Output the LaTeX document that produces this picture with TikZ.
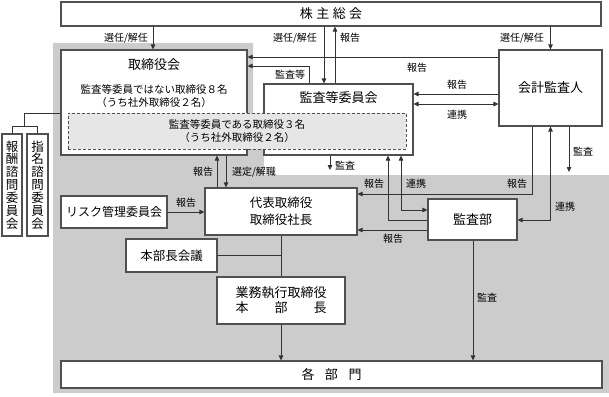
\documentclass[tikz,border=0pt]{standalone}
\usepackage{fontspec}
\setmainfont{Noto Sans CJK JP}
\usetikzlibrary{arrows.meta}
\definecolor{bggray}{HTML}{CCCCCC}
\definecolor{dashfill}{HTML}{E6E6E6}
\definecolor{linec}{HTML}{333333}
\definecolor{boxc}{HTML}{505050}
\begin{document}
\begin{tikzpicture}[x=1pt,y=-1pt,
  box/.style={draw=boxc, line width=1.1pt, fill=white, inner sep=0pt, anchor=center, align=center},
  dbox/.style={draw=boxc, line width=0.8pt, dash pattern=on 3pt off 2pt, fill=dashfill, inner sep=0pt, anchor=center, align=center, font=\fontsize{10.5}{12.5}\selectfont},
  conn/.style={draw=linec, line width=0.8pt},
  arr/.style={conn, -{Triangle[length=5pt,width=4.5pt]}},
  darr/.style={conn, {Triangle[length=5pt,width=4.5pt]}-{Triangle[length=5pt,width=4.5pt]}},
  lbl/.style={inner sep=0pt, anchor=center, font=\fontsize{10}{12}\selectfont},
  ttl/.style={inner sep=0pt, anchor=center, align=center, font=\fontsize{13}{15}\selectfont},
  txt/.style={inner sep=0pt, anchor=center, align=center, font=\fontsize{10.5}{13}\selectfont},
  vbox/.style={box, font=\fontsize{12.5}{12.9}\selectfont}
]
\useasboundingbox (0,0) rectangle (609,396);
\fill[bggray] (53,43) -- (253,43) -- (253,130) -- (264,130) -- (264,175) -- (609,175) -- (609,393) -- (53,393) -- cycle;

% boxes
\node[box, minimum width=540pt, minimum height=24pt, font=\fontsize{13}{15}\selectfont] (soukai) at (331,14) {株\hspace{3.5pt}主\hspace{3.5pt}総\hspace{3.5pt}会};
\node[box, minimum width=186pt, minimum height=105pt] (torikai) at (154,102.5) {};
\node[ttl] (torikaiT) at (154,65) {取締役会};
\node[txt] (torikaiA) at (154,96.5) {監査等委員ではない取締役８名\\（うち社外取締役２名）};
\node[box, minimum width=149pt, minimum height=71pt] (kansakai) at (338.5,119.5) {};
\node[ttl] (kansakaiT) at (338.5,98) {監査等委員会};
\node[dbox, minimum width=338pt, minimum height=36pt] (iin) at (237,131) {監査等委員である取締役３名\\（うち社外取締役２名）};
\node[box, minimum width=103pt, minimum height=76pt, font=\fontsize{13}{15}\selectfont] (kaikei) at (550.5,88) {会計監査人};
\node[box, minimum width=152pt, minimum height=47pt, font=\fontsize{12.5}{16.5}\selectfont] (daihyo) at (281,211.5) {代表取締役\\取締役社長};
\node[box, minimum width=106pt, minimum height=32pt, font=\fontsize{12}{14}\selectfont] (risk) at (114,212) {リスク管理委員会};
\node[box, minimum width=91pt, minimum height=33pt, font=\fontsize{12.5}{14}\selectfont] (honbu) at (171.5,255.5) {本部長会議};
\node[box, minimum width=128pt, minimum height=47pt, font=\fontsize{13}{15}\selectfont] (gyomu) at (281,300.5) {業務執行取締役\\\makebox[7em]{本\hfill 部\hfill 長}};
\node[box, minimum width=89pt, minimum height=41pt, font=\fontsize{13}{15}\selectfont] (kansabu) at (472.5,219.5) {監査部};
\node[box, minimum width=541pt, minimum height=27pt, font=\fontsize{13}{15}\selectfont] (kakubu) at (331.5,374.5) {各\hspace{10.5pt}部\hspace{10.5pt}門};
\node[vbox, minimum width=20pt, minimum height=102pt] (houshu) at (12,185) {報\\酬\\諮\\問\\委\\員\\会};
\node[vbox, minimum width=21pt, minimum height=102pt] (shimei) at (37.5,185) {指\\名\\諮\\問\\委\\員\\会};

\coordinate (kaikeiEnd) at (569,172);
\coordinate (kansakaiEnd) at (330,170);

% connectors
\draw[arr] (153,0 |- soukai.south) -- (153,0 |- torikai.north);
\draw[arr] (324,0 |- soukai.south) -- (324,0 |- kansakai.north);
\draw[arr] (335,0 |- kansakai.north) -- (335,0 |- soukai.south);
\draw[arr] (kaikei.north |- soukai.south) -- (kaikei.north);
\draw[arr] (kaikei.west |- 0,57) -- (torikai.east |- 0,57);
\draw[arr] (309,0 |- kansakai.north) -- (309,66) -- (torikai.east |- 0,66);
\draw[arr] (kaikei.west |- 0,94) -- (kansakai.east |- 0,94);
\draw[darr] (kansakai.east |- 0,104) -- (kaikei.west |- 0,104);
\draw[arr] (kaikeiEnd |- kaikei.south) -- (kaikeiEnd);
\draw[arr] (kansakaiEnd |- kansakai.south) -- (kansakaiEnd);
\draw[arr] (kansabu.west |- 0,220) -- (388,220) -- (388,0 |- kansakai.south);
\draw[darr] (kansabu.west |- 0,210) -- (401,210) -- (401,0 |- kansakai.south);
\draw[arr] (532,0 |- kaikei.south) -- (532,194) -- (daihyo.east |- 0,194);
\draw[darr] (kaikei.south) -- (kaikei.south |- 0,220) -- (kansabu.east |- 0,220);
\draw[arr] (kansabu.west |- 0,230) -- (daihyo.east |- 0,230);
\draw[arr] (473,0 |- kansabu.south) -- (473,0 |- kakubu.north);
\draw[arr] (217,0 |- daihyo.north) -- (217,0 |- torikai.south);
\draw[arr] (226,0 |- torikai.south) -- (226,0 |- daihyo.north);
\draw[arr] (risk.east) -- (daihyo.west |- risk.east);
\draw[conn] (honbu.east) -- (daihyo.south |- honbu.east);
\draw[conn] (daihyo.south) -- (gyomu.north);
\draw[arr] (gyomu.south) -- (gyomu.south |- kakubu.north);
\draw[conn] (torikai.west |- 0,113) -- (24,113) -- (24,126);
\draw[conn] (houshu.north) -- (houshu.north |- 0,126) -- (shimei.north |- 0,126) -- (shimei.north);

% labels
\node[lbl] (l1) at (126,38) {選任/解任};
\node[lbl] (l2) at (295,38) {選任/解任};
\node[lbl] (l3) at (350,38) {報告};
\node[lbl] (l4) at (522,38) {選任/解任};
\node[lbl] (l5) at (417,68) {報告};
\node[lbl] (l6) at (290,75) {監査等};
\node[lbl] (l7) at (457,85) {報告};
\node[lbl] (l8) at (457,115) {連携};
\node[lbl] (l9) at (583,152) {監査};
\node[lbl] (l10) at (345,166) {監査};
\node[lbl] (l11) at (374,184) {報告};
\node[lbl] (l12) at (416,184) {連携};
\node[lbl] (l13) at (517,184) {報告};
\node[lbl] (l14) at (565,207) {連携};
\node[lbl] (l15) at (393,239) {報告};
\node[lbl] (l16) at (487,298) {監査};
\node[lbl] (l17) at (203,172) {報告};
\node[lbl] (l18) at (254,172) {選定/解職};
\node[lbl] (l19) at (186,203) {報告};
\end{tikzpicture}
\end{document}
